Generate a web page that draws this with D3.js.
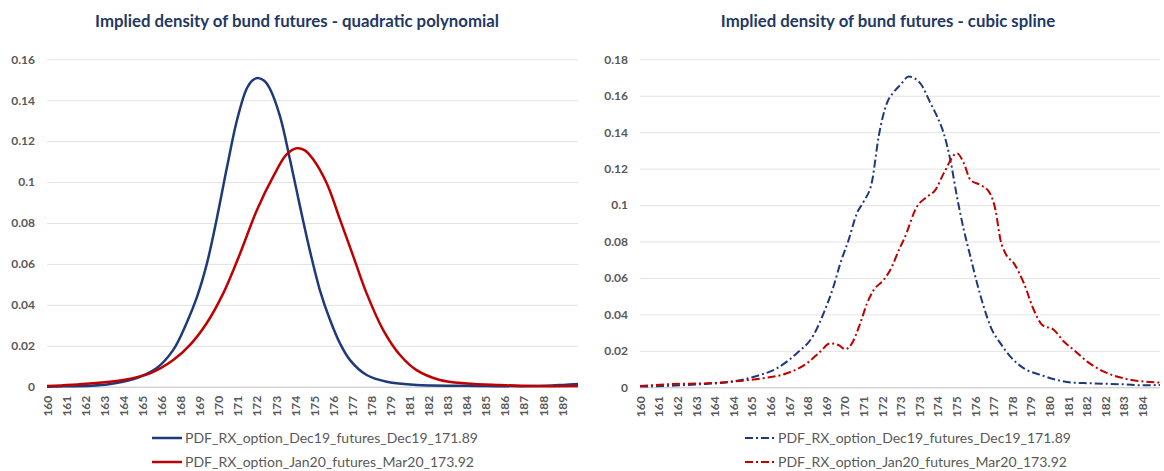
<!DOCTYPE html>
<html lang="en">
<head>
    <meta charset="UTF-8">
    <title>Implied density of bund futures</title>
    <script src="https://cdnjs.cloudflare.com/ajax/libs/d3/7.8.5/d3.min.js"></script>
    <style type="text/css">
        body {
            margin: 0;
            background: #fff;
        }
        text {
            font-family: Lato, "Open Sans", sans-serif;
        }
    </style>
</head>
<body>
<div class="container"></div>
<script>
    // --- data ---
    const seriesNames = [
        'PDF_RX_option_Dec19_futures_Dec19_171.89',
        'PDF_RX_option_Jan20_futures_Mar20_173.92'
    ];

    // quadratic polynomial chart
    const quadLabels = ['160', '161', '162', '163', '164', '165', '166', '168', '169', '170',
        '171', '172', '173', '174', '175', '176', '177', '178', '179', '181',
        '182', '183', '184', '185', '186', '187', '188', '189'];
    const quadLabelStep = 1.08;
    const quadYTicks = [0, 0.02, 0.04, 0.06, 0.08, 0.1, 0.12, 0.14, 0.16];

    const quadDecX = [160, 161, 162.5, 163.5, 164.3, 165.3, 166.2, 167.15, 167.9, 168.5,
        169.05, 169.6, 170.2, 170.75, 171.3, 171.65, 171.97, 172.3, 172.63, 173.2,
        173.76, 174.33, 174.9, 175.46, 176.03, 176.6, 177.16, 178.1, 179.24, 180.93,
        183.77, 187.5, 189.4, 190.07];
    const quadDecY = [0, 0.0002, 0.0005, 0.0012, 0.0024, 0.005, 0.009, 0.018, 0.031, 0.044,
        0.060, 0.0815, 0.1076, 0.130, 0.1455, 0.1498, 0.1508, 0.1495, 0.1455, 0.132,
        0.111, 0.088, 0.066, 0.047, 0.0326, 0.021, 0.013, 0.0057, 0.0024, 0.0008,
        0.0005, 0.0003, 0.001, 0.0013];

    const quadJanX = [160, 162.43, 164.32, 165.83, 167.15, 168.1, 169.04, 169.98, 170.93, 171.87,
        172.83, 173.57, 174.14, 174.6, 175.08, 175.84, 176.6, 177.35, 178.1, 179.04,
        179.99, 180.93, 182.25, 183.77, 185.65, 187.5, 190.07];
    const quadJanY = [0.0003, 0.0016, 0.0033, 0.0065, 0.013, 0.0204, 0.031, 0.0456, 0.065, 0.086,
        0.103, 0.1135, 0.1165, 0.1155, 0.111, 0.0994, 0.0815, 0.0636, 0.0456, 0.0277,
        0.0155, 0.0081, 0.0033, 0.0016, 0.0008, 0.0003, 0.0003];

    // cubic spline chart
    const splineLabels = ['160', '161', '162', '163', '164', '164', '165', '166', '167', '168',
        '169', '170', '171', '172', '173', '173', '174', '175', '176', '177',
        '178', '179', '180', '181', '182', '182', '183', '184'];
    const splineLabelStep = 0.898;
    const splineYTicks = [0, 0.02, 0.04, 0.06, 0.08, 0.1, 0.12, 0.14, 0.16, 0.18];

    const splineDecX = [160, 161.13, 162.74, 164.35, 165.64, 166.6, 167.57, 168.38, 168.86, 169.34,
        169.67, 170.07, 170.47, 170.8, 171.2, 171.52, 171.92, 172.25, 172.57, 172.97,
        173.53, 174.02, 174.34, 174.66, 174.98, 175.3, 175.63, 175.95, 176.27, 176.59,
        176.92, 177.4, 177.88, 178.53, 179.33, 180.14, 180.78, 181.75, 183.36, 184.33,
        185.1];
    const splineDecY = [0.0004, 0.0007, 0.0016, 0.003, 0.0062, 0.0104, 0.0187, 0.0287, 0.0406, 0.0553,
        0.068, 0.0809, 0.0955, 0.102, 0.113, 0.1376, 0.156, 0.162, 0.166, 0.1705,
        0.1668, 0.156, 0.1486, 0.1394, 0.1248, 0.1046, 0.0864, 0.0717, 0.0571, 0.0443,
        0.0333, 0.0241, 0.0168, 0.0104, 0.0068, 0.004, 0.0026, 0.0022, 0.0016, 0.0011,
        0.0013];

    const splineJanX = [160, 161.61, 163.22, 164.83, 165.96, 167.09, 168.06, 168.7, 169.18, 169.58,
        169.91, 170.23, 170.63, 170.96, 171.28, 171.76, 172.08, 172.57, 172.73, 173.37,
        173.86, 174.26, 174.66, 175.3, 175.63, 175.95, 176.43, 176.84, 177.16, 177.4,
        177.64, 178.05, 178.53, 179.01, 179.42, 179.98, 180.46, 180.94, 181.59, 182.39,
        183.36, 184.33, 185.1];
    const splineJanY = [0.0007, 0.0018, 0.0022, 0.0035, 0.005, 0.0077, 0.0132, 0.0196, 0.0241, 0.0232,
        0.0209, 0.0241, 0.0351, 0.0461, 0.0534, 0.0589, 0.0644, 0.0772, 0.0809, 0.0992,
        0.1046, 0.1083, 0.1174, 0.1284, 0.123, 0.1138, 0.111, 0.1074, 0.0973, 0.0809,
        0.0735, 0.068, 0.0571, 0.0424, 0.0342, 0.0315, 0.0251, 0.0205, 0.0141, 0.0086,
        0.0049, 0.0031, 0.0026];

    // --- drawing ---
    const colors = ['#1f3a7a', '#c00000'];
    const zip = (xs, ys) => xs.map((x, i) => ({x: x, y: ys[i]}));

    const svg = d3.select('.container')
        .append('svg')
        .attr('width', 1164)
        .attr('height', 471);

    function drawChart(opt) {
        const g = svg.append('g');

        const all = opt.series.flat();
        const xScale = d3.scaleLinear()
            .domain(d3.extent(all, d => d.x))
            .range([opt.left, opt.right]);

        const yScale = d3.scaleLinear()
            .domain([0, d3.max(opt.yTicks)])
            .range([opt.bottom, opt.top]);

        // title
        g.append('text')
            .text(opt.title)
            .attr('x', opt.titleX)
            .attr('y', 27)
            .attr('text-anchor', 'middle')
            .attr('font-size', 16.8)
            .attr('font-weight', 'bold')
            .attr('fill', '#1f3864');

        // gridlines + y labels
        const yAxis = d3.axisLeft(yScale)
            .tickValues(opt.yTicks)
            .tickSize(-(opt.right - opt.left))
            .tickPadding(12)
            .tickFormat(d => d === 0 ? '0' : String(+d.toFixed(2)));

        const yg = g.append('g')
            .attr('transform', 'translate(' + opt.left + ', 0)')
            .call(yAxis);
        yg.select('.domain').remove();
        yg.selectAll('.tick line')
            .attr('stroke', (d) => d === 0 ? '#bfbfbf' : '#e3e3e3')
            .attr('stroke-width', 1);
        yg.selectAll('.tick text')
            .attr('fill', '#595959')
            .attr('font-size', 12)
            .attr('font-weight', 'bold')
            .attr('font-family', 'Lato, sans-serif');

        // x labels
        const xTicks = opt.xLabels.map((d, i) => 160 + i * opt.labelStep);
        const xAxis = d3.axisBottom(xScale)
            .tickValues(xTicks)
            .tickSize(0)
            .tickFormat((d, i) => opt.xLabels[i]);

        const xg = g.append('g')
            .attr('transform', 'translate(0, ' + opt.bottom + ')')
            .call(xAxis);
        xg.select('.domain').remove();
        xg.selectAll('.tick text')
            .attr('fill', '#595959')
            .attr('font-size', 12)
            .attr('font-weight', 'bold')
            .attr('font-family', 'Lato, sans-serif')
            .attr('text-anchor', 'end')
            .attr('dy', '0.35em')
            .attr('transform', 'translate(0, 9) rotate(-90)')
            .attr('y', 0)
            .attr('x', 0);

        // curves
        const line = d3.line()
            .x(d => xScale(d.x))
            .y(d => yScale(d.y))
            .curve(opt.curve);

        opt.series.forEach((s, i) => {
            g.append('path')
                .attr('fill', 'none')
                .attr('stroke', colors[i])
                .attr('stroke-width', opt.strokeWidth)
                .attr('stroke-dasharray', opt.dash)
                .attr('d', line(s));
        });

        // legend
        seriesNames.forEach((name, i) => {
            const ly = 438 + i * 24;
            g.append('line')
                .attr('x1', opt.legendX)
                .attr('x2', opt.legendX + 30)
                .attr('y1', ly)
                .attr('y2', ly)
                .attr('stroke', colors[i])
                .attr('stroke-width', opt.strokeWidth)
                .attr('stroke-dasharray', opt.dash);
            g.append('text')
                .text(name)
                .attr('x', opt.legendX + 33)
                .attr('y', ly)
                .attr('dy', '0.35em')
                .attr('font-size', 14)
                .attr('fill', '#595959');
        });
    }

    drawChart({
        title: 'Implied density of bund futures - quadratic polynomial',
        titleX: 297,
        left: 47, right: 578, top: 59.3, bottom: 386.7,
        xLabels: quadLabels,
        labelStep: quadLabelStep,
        yTicks: quadYTicks,
        series: [zip(quadDecX, quadDecY), zip(quadJanX, quadJanY)],
        curve: d3.curveCatmullRom.alpha(0.5),
        strokeWidth: 2.5,
        dash: null,
        legendX: 152
    });

    drawChart({
        title: 'Implied density of bund futures - cubic spline',
        titleX: 888,
        left: 640, right: 1160, top: 59.3, bottom: 387.3,
        xLabels: splineLabels,
        labelStep: splineLabelStep,
        yTicks: splineYTicks,
        series: [zip(splineDecX, splineDecY), zip(splineJanX, splineJanY)],
        curve: d3.curveMonotoneX,
        strokeWidth: 2,
        dash: '8,3,2,3',
        legendX: 745
    });
</script>
</body>
</html>
